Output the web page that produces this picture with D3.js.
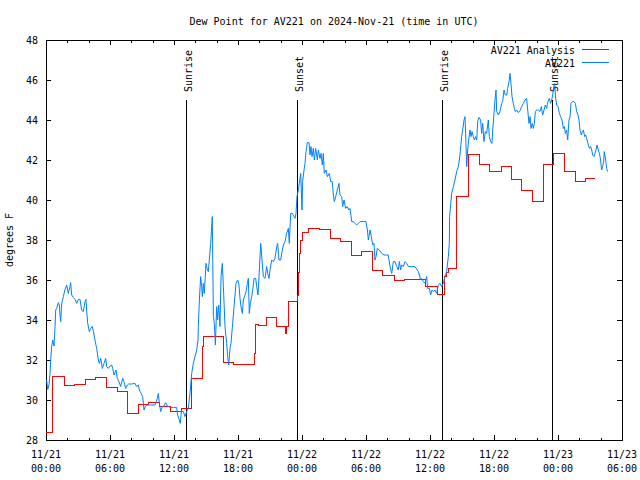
<!DOCTYPE html>
<html>
<head>
<meta charset="utf-8">
<script src="https://cdn.jsdelivr.net/npm/d3@7"></script>
<style>
  html, body { margin: 0; padding: 0; background: #fff; }
  svg text { font-family: "DejaVu Sans Mono", "Liberation Mono", monospace; font-size: 10px; fill: #000; }
</style>
</head>
<body>
<svg id="chart" width="640" height="480"></svg>
<script>
// ---------------- data ----------------
const titleText = "Dew Point for AV221 on 2024-Nov-21 (time in UTC)";
const yLabel = "degrees F";
const startTime = "2024-11-21T00:00:00Z";
const endTime = "2024-11-23T06:00:00Z";
const yTicks = [28, 30, 32, 34, 36, 38, 40, 42, 44, 46, 48];
const seriesNames = ["AV221 Analysis", "AV221"];
const seriesColors = ["#ff0000", "#0080ff"];

const sunLabels = ["Sunrise", "Sunset", "Sunrise", "Sunset"];
const sunHours = [13.13, 23.53, 37.1, 47.42];

// AV221 observations (hours after start, deg F)
const obsHours = [0.06,0.16,0.28,0.38,0.44,0.53,0.63,0.75,0.84,0.91,1.0,1.16,1.25,1.31,1.38,1.47,1.63,1.78,1.94,2.09,2.25,2.31,2.41,2.56,2.72,2.88,3.03,3.19,3.34,3.5,3.66,3.75,3.81,3.91,4.06,4.19,4.34,4.44,4.59,4.75,4.91,5.0,5.13,5.28,5.44,5.59,5.69,5.84,6.0,6.16,6.25,6.38,6.56,6.69,6.84,7.0,7.19,7.31,7.47,7.63,7.75,8.03,8.34,8.5,8.66,8.75,8.91,9.06,9.19,9.31,9.44,9.75,10.22,10.44,10.53,10.63,10.75,10.91,11.06,11.22,11.38,11.63,11.94,12.25,12.34,12.5,12.59,12.69,12.88,13.03,13.19,13.34,13.5,13.66,13.81,13.97,14.13,14.25,
14.28,14.38,14.5,14.59,14.66,14.75,14.84,15.0,15.13,15.22,15.31,15.44,15.53,15.59,15.69,15.78,15.88,16.0,16.09,16.19,16.31,16.41,16.53,16.63,16.78,16.94,17.03,17.13,17.25,17.34,17.5,17.63,17.81,17.97,18.09,18.19,18.28,18.41,18.5,18.66,18.75,18.88,18.97,19.06,19.16,19.28,19.38,19.5,19.66,19.75,19.88,20.0,20.13,20.25,20.38,20.53,20.69,20.78,20.91,21.0,21.16,21.31,21.47,21.63,21.72,21.84,22.0,22.13,22.25,22.41,22.56,22.72,22.81,22.94,23.09,23.25,23.34,23.44,23.53,
23.66,23.75,23.88,24.0,24.06,24.19,24.28,24.38,24.5,24.66,24.75,24.84,24.94,25.06,25.16,25.28,25.44,25.53,25.69,25.78,25.91,26.0,26.09,26.25,26.38,26.56,26.69,26.84,26.94,27.03,27.16,27.31,27.47,27.56,27.72,27.81,27.94,28.09,28.25,28.38,28.5,28.66,28.81,28.97,29.13,29.28,29.44,29.75,30.0,30.13,30.22,30.38,30.5,30.63,30.75,30.84,30.94,31.06,31.25,31.47,31.69,31.94,32.09,32.25,32.41,32.56,32.72,32.88,33.03,33.13,33.25,33.34,33.5,33.66,33.81,33.97,34.28,34.59,34.91,35.13,35.22,35.38,35.53,35.69,35.78,35.94,36.06,36.19,36.31,36.47,36.63,36.78,36.94,37.09,37.25,37.41,37.56,37.72,37.81,
37.84,38.03,38.19,38.34,38.5,38.66,38.81,38.97,39.06,39.19,39.28,39.34,39.44,39.53,39.63,39.75,39.84,39.94,40.06,40.16,40.28,40.38,40.47,40.59,40.75,40.84,40.94,41.06,41.19,41.31,41.47,41.56,41.69,41.81,41.88,42.0,42.09,42.19,42.25,42.41,42.56,42.72,42.81,42.94,43.06,43.19,43.28,43.41,43.5,43.59,43.69,43.81,43.91,44.0,44.13,44.28,44.44,44.59,44.75,44.91,45.06,45.16,45.28,45.38,45.47,45.59,45.69,45.78,45.88,46.0,46.16,46.31,46.44,46.56,46.69,46.81,46.94,47.06,47.19,47.31,47.41,47.5,47.63,47.69,47.78,47.88,48.0,48.13,48.25,48.38,48.5,48.59,48.69,48.81,48.91,49.03,49.13,49.22,49.34,49.5,49.63,49.75,49.88,49.97,50.06,50.19,50.28,50.38,50.5,50.59,50.69,50.81,50.94,51.06,51.16,51.25,51.38,51.47,51.56,51.66,51.78,51.88,51.97,52.09,52.19,52.28,52.34,52.47,52.56,52.66];
const obsDew = [31.0,30.53,30.75,31.33,32.0,32.67,33.0,32.7,33.58,34.5,34.58,34.87,34.75,34.25,33.92,34.83,35.17,35.53,35.75,35.33,35.67,35.87,35.25,35.13,35.03,34.83,35.03,35.03,34.5,34.42,34.92,35.03,34.5,33.83,33.42,33.58,33.67,33.42,33.0,32.58,32.0,31.83,32.08,31.58,31.83,32.08,31.67,31.58,31.7,31.75,31.58,31.25,31.5,31.08,30.92,30.67,31.08,30.92,30.58,30.75,30.8,30.8,30.83,30.67,30.75,30.5,30.33,30.17,29.5,29.67,29.75,29.75,29.75,30.08,30.33,29.83,29.42,29.67,29.7,29.87,29.7,29.63,29.63,29.63,29.25,29.0,28.83,29.42,29.42,29.17,29.42,29.58,30.33,31.33,31.83,32.17,32.5,33.0,
33.67,35.0,36.17,35.67,35.17,35.83,35.33,36.83,36.5,36.42,37.0,37.83,38.67,39.17,34.17,33.83,32.75,34.67,34.0,34.75,33.67,36.17,36.83,35.67,33.67,32.83,32.17,31.75,32.58,32.83,33.83,34.67,35.83,36.0,35.75,35.08,34.67,34.33,35.0,35.25,35.42,35.83,36.08,34.33,34.83,35.17,35.5,36.08,36.08,35.67,35.25,36.5,37.83,37.0,36.17,36.08,36.67,36.33,36.08,36.5,37.0,36.92,37.08,37.67,37.83,37.0,37.0,37.42,37.75,37.92,38.33,38.58,37.83,39.33,39.33,39.17,39.08,39.33,40.17,
40.5,40.83,41.33,39.5,40.92,41.5,41.83,42.42,42.87,42.87,42.25,42.67,42.17,42.58,42.0,42.58,42.0,42.5,42.08,42.33,41.75,42.33,41.33,41.5,41.17,41.33,40.92,40.92,40.25,39.92,40.17,40.5,40.83,40.25,40.17,39.67,40.0,39.58,39.67,39.5,39.58,38.92,38.92,38.83,38.75,38.83,38.92,38.92,38.92,38.5,38.0,38.5,38.17,37.75,37.83,37.0,37.17,37.58,37.5,37.33,37.25,37.25,37.25,36.67,36.33,36.92,36.92,36.67,36.5,36.92,36.5,36.75,36.67,36.92,36.83,36.67,36.67,36.67,36.42,36.0,36.08,35.92,35.83,36.17,35.58,35.58,35.25,35.5,35.42,35.5,35.33,35.75,35.83,35.67,35.83,36.17,36.42,37.17,37.83,
39.17,40.33,40.67,41.0,41.42,41.67,42.25,43.17,43.5,44.0,44.17,43.33,41.67,42.5,43.0,43.5,43.17,43.42,43.17,43.0,43.17,43.0,43.92,44.13,44.0,43.33,43.83,42.92,43.42,43.33,44.0,43.17,42.92,42.83,43.5,44.33,45.0,45.5,44.42,44.25,44.42,44.83,44.92,45.5,45.25,45.25,45.58,45.92,46.33,45.83,45.17,44.83,44.58,44.42,44.5,44.37,44.47,44.67,44.83,45.0,45.08,44.5,43.83,44.17,43.58,43.83,43.58,43.83,44.42,44.5,44.5,44.42,44.67,44.25,44.5,44.75,44.58,44.92,45.08,44.83,45.0,45.25,45.75,45.83,45.08,44.75,44.67,44.33,44.17,44.0,43.58,43.67,43.33,43.5,43.0,44.0,44.17,44.83,44.92,44.92,44.83,44.42,44.25,44.0,43.5,43.25,43.42,43.5,43.17,43.25,43.08,42.83,42.58,42.67,42.5,42.25,42.17,42.33,42.5,42.75,42.5,42.33,42.08,41.5,41.67,41.92,42.42,42.0,41.58,41.42];

// AV221 Analysis (step changes: hours after start, deg F)
const anaHours = [0.0,0.65,1.69,2.63,3.72,4.66,5.69,6.72,7.66,8.69,9.63,10.6,11.7,12.66,13.66,14.66,14.75,16.6,17.6,19.55,19.65,19.9,20.65,21.63,22.45,22.55,22.7,23.56,23.66,23.75,23.9,24.03,24.6,25.62,26.66,27.6,28.64,29.62,30.6,31.57,32.68,33.58,35.6,36.68,37.4,37.56,37.78,38.5,39.6,40.6,41.6,42.66,43.66,44.6,45.6,46.6,47.6,48.6,49.6,50.6,51.5];
const anaDew = [28.4,31.2,30.75,30.8,31.03,31.13,30.65,30.45,29.33,29.8,29.9,29.7,29.45,29.6,31.1,32.67,33.2,31.87,31.8,32.33,33.8,33.73,34.15,33.67,33.35,33.7,34.92,35.25,36.4,37.35,38.0,38.4,38.57,38.53,38.08,37.95,37.23,37.45,36.5,36.25,36.0,36.05,35.67,35.3,36.17,36.4,36.58,40.2,42.28,41.8,41.45,41.7,41.03,40.5,39.95,41.8,42.33,41.45,40.95,41.1,41.1];

// ---------------- chart ----------------
const svg = d3.select("#chart");
const pLeft = 46, pRight = 622, pTop = 40, pBottom = 440;
const t0 = new Date(startTime);
const toDate = h => new Date(t0.getTime() + h * 3600e3);

const x = d3.scaleUtc().domain([t0, new Date(endTime)]).range([pLeft, pRight]);
const y = d3.scaleLinear().domain([28, 48]).range([pBottom, pTop]);

const majorTicks = x.ticks(d3.utcHour.every(6));
const minorTicks = x.ticks(d3.utcHour.every(2));

const axes = svg.append("g").attr("shape-rendering", "crispEdges");

// minor ticks (bottom & top)
axes.append("g").attr("transform", `translate(0,${pBottom})`)
  .call(d3.axisBottom(x).tickValues(minorTicks).tickSize(-2.5).tickFormat(""))
  .call(g => g.select(".domain").remove());
axes.append("g").attr("transform", `translate(0,${pTop})`)
  .call(d3.axisTop(x).tickValues(minorTicks).tickSize(-2.5).tickFormat(""))
  .call(g => g.select(".domain").remove());
// major ticks
axes.append("g").attr("transform", `translate(0,${pBottom})`)
  .call(d3.axisBottom(x).tickValues(majorTicks).tickSize(-5).tickFormat(""))
  .call(g => g.select(".domain").remove());
axes.append("g").attr("transform", `translate(0,${pTop})`)
  .call(d3.axisTop(x).tickValues(majorTicks).tickSize(-5).tickFormat(""))
  .call(g => g.select(".domain").remove());
// y axes
axes.append("g").attr("transform", `translate(${pLeft},0)`)
  .call(d3.axisLeft(y).tickValues(yTicks).tickSize(-5).tickPadding(8).tickFormat(d3.format("d")))
  .call(g => g.select(".domain").remove())
  .call(g => g.selectAll("text").attr("font-family", "DejaVu Sans Mono").attr("font-size", 10).attr("dy", "0.35em").attr("fill", "#000"));
axes.append("g").attr("transform", `translate(${pRight},0)`)
  .call(d3.axisRight(y).tickValues(yTicks).tickSize(-5).tickFormat(""))
  .call(g => g.select(".domain").remove());
axes.selectAll(".tick line").attr("stroke", "#000");

// x tick labels (two lines)
const fmtDate = d3.utcFormat("%m/%d"), fmtTime = d3.utcFormat("%H:%M");
const xl = svg.append("g");
majorTicks.forEach(d => {
  const t = xl.append("text").attr("x", x(d)).attr("text-anchor", "middle");
  t.append("tspan").attr("x", x(d)).attr("y", 458).text(fmtDate(d));
  t.append("tspan").attr("x", x(d)).attr("y", 471.5).text(fmtTime(d));
});

// frame
axes.append("rect").attr("x", pLeft).attr("y", pTop).attr("width", pRight - pLeft).attr("height", pBottom - pTop)
  .attr("fill", "none").attr("stroke", "#000").attr("stroke-width", 1);

// title & y label
svg.append("text").attr("x", (pLeft + pRight) / 2).attr("y", 25).attr("text-anchor", "middle").text(titleText);
svg.append("text").attr("transform", `translate(13,${(pTop + pBottom) / 2}) rotate(-90)`).attr("text-anchor", "middle").text(yLabel);

// sunrise / sunset markers
const sun = svg.append("g");
sunHours.forEach((h, i) => {
  const sx = Math.round(x(toDate(h))) + 0.5;
  sun.append("line").attr("x1", sx).attr("x2", sx).attr("y1", y(45)).attr("y2", y(28))
    .attr("stroke", "#000").attr("stroke-width", 1).attr("shape-rendering", "crispEdges");
  sun.append("text").attr("transform", `translate(${sx + 5},92) rotate(-90)`).attr("text-anchor", "start").text(sunLabels[i]);
});

// series
const lineObs = d3.line().x(d => x(toDate(d[0]))).y(d => y(d[1]));
const lineAna = d3.line().x(d => x(toDate(d[0]))).y(d => y(d[1])).curve(d3.curveStepAfter);

svg.append("path").datum(d3.zip(anaHours, anaDew))
  .attr("d", lineAna).attr("fill", "none").attr("stroke", seriesColors[0]).attr("stroke-width", 1)
  .attr("shape-rendering", "crispEdges");
svg.append("path").datum(d3.zip(obsHours, obsDew))
  .attr("d", lineObs).attr("fill", "none").attr("stroke", seriesColors[1]).attr("stroke-width", 1);

// legend
const leg = svg.append("g");
seriesNames.forEach((n, i) => {
  const ly = 49.5 + i * 13;
  leg.append("text").attr("x", 575).attr("y", ly + 4).attr("text-anchor", "end").text(n);
  leg.append("line").attr("x1", 582).attr("x2", 609).attr("y1", ly).attr("y2", ly)
    .attr("stroke", seriesColors[i]).attr("stroke-width", 1).attr("shape-rendering", "crispEdges");
});
</script>
</body>
</html>
